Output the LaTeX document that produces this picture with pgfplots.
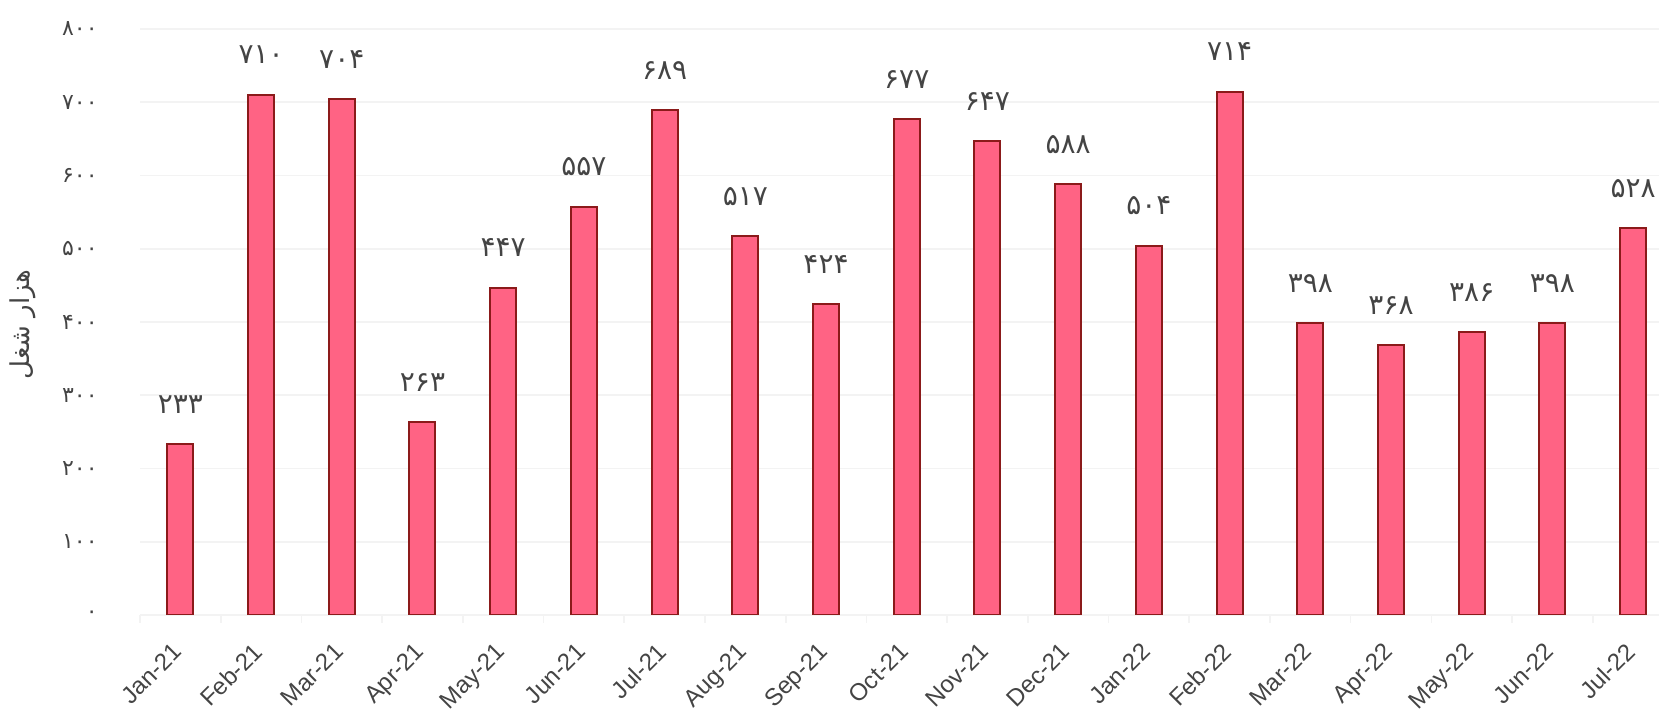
\documentclass[border=0pt]{standalone}
\usepackage{fontspec}
\usepackage{pgfplots}
\usepackage{pgfplotstable}
\pgfplotsset{compat=1.18}
\setmainfont{Liberation Sans}
\newfontfamily\arabicfont[Script=Arabic]{DejaVu Sans}
\TeXXeTstate=1

\definecolor{barfill}{RGB}{255,99,132}
\definecolor{baredge}{RGB}{139,26,26}
\definecolor{txt}{RGB}{68,68,68}
\definecolor{gridc}{RGB}{243,243,243}

% x = month index, y = thousand jobs, lab = value in Persian digits
\pgfplotstableread{
x y lab
0 233 ۲۳۳
1 710 ۷۱۰
2 704 ۷۰۴
3 263 ۲۶۳
4 447 ۴۴۷
5 557 ۵۵۷
6 689 ۶۸۹
7 517 ۵۱۷
8 424 ۴۲۴
9 677 ۶۷۷
10 647 ۶۴۷
11 588 ۵۸۸
12 504 ۵۰۴
13 714 ۷۱۴
14 398 ۳۹۸
15 368 ۳۶۸
16 386 ۳۸۶
17 398 ۳۹۸
18 528 ۵۲۸
}\jobsdata

\begin{document}
\begin{tikzpicture}
\useasboundingbox (-70pt,-48pt) rectangle (759.5pt,307.5pt);
\begin{axis}[
	at={(0,0)}, anchor=south west,
	scale only axis,
	width=759.5pt, height=293pt,
	ybar, bar width=13pt,
	xmin=-0.5, xmax=18.32,
	ymin=0, ymax=800,
	axis line style={draw=none},
	ymajorgrids, grid style={color=gridc, line width=0.8pt},
	major tick length=0pt,
	tick pos=left,
	xtick={0,...,18},
	xticklabels={Jan-21,Feb-21,Mar-21,Apr-21,May-21,Jun-21,Jul-21,Aug-21,Sep-21,Oct-21,Nov-21,Dec-21,Jan-22,Feb-22,Mar-22,Apr-22,May-22,Jun-22,Jul-22},
	minor xtick={-0.5,0.5,...,17.5},
	minor tick length=4pt, tick align=outside,
	minor tick style={color=gridc, line width=0.8pt},
	xticklabel style={font=\fontsize{12}{14}\selectfont, text=txt, anchor=north east, inner sep=0pt, yshift=-13pt, xshift=-4.5pt, rotate=45},
	ytick={0,100,...,800},
	yticklabels={۰,۱۰۰,۲۰۰,۳۰۰,۴۰۰,۵۰۰,۶۰۰,۷۰۰,۸۰۰},
	yticklabel style={font=\arabicfont\fontsize{11}{13}\selectfont, text=txt, anchor=east, inner sep=0pt, xshift=-21pt},
	ylabel={\arabicfont\beginR هزار شغل\endR},
	ylabel style={font=\fontsize{13}{15}\selectfont, text=txt, at={(rel axis cs:0,0.496)}, anchor=center, yshift=58.5pt},
	nodes near coords,
	point meta=explicit symbolic,
	nodes near coords style={font=\arabicfont\fontsize{14}{16}\selectfont, text=txt, anchor=center, yshift=20pt},
]
\addplot[fill=barfill, draw=baredge, line width=1pt] table[x=x, y=y, meta=lab] {\jobsdata};
\end{axis}
\end{tikzpicture}
\end{document}
